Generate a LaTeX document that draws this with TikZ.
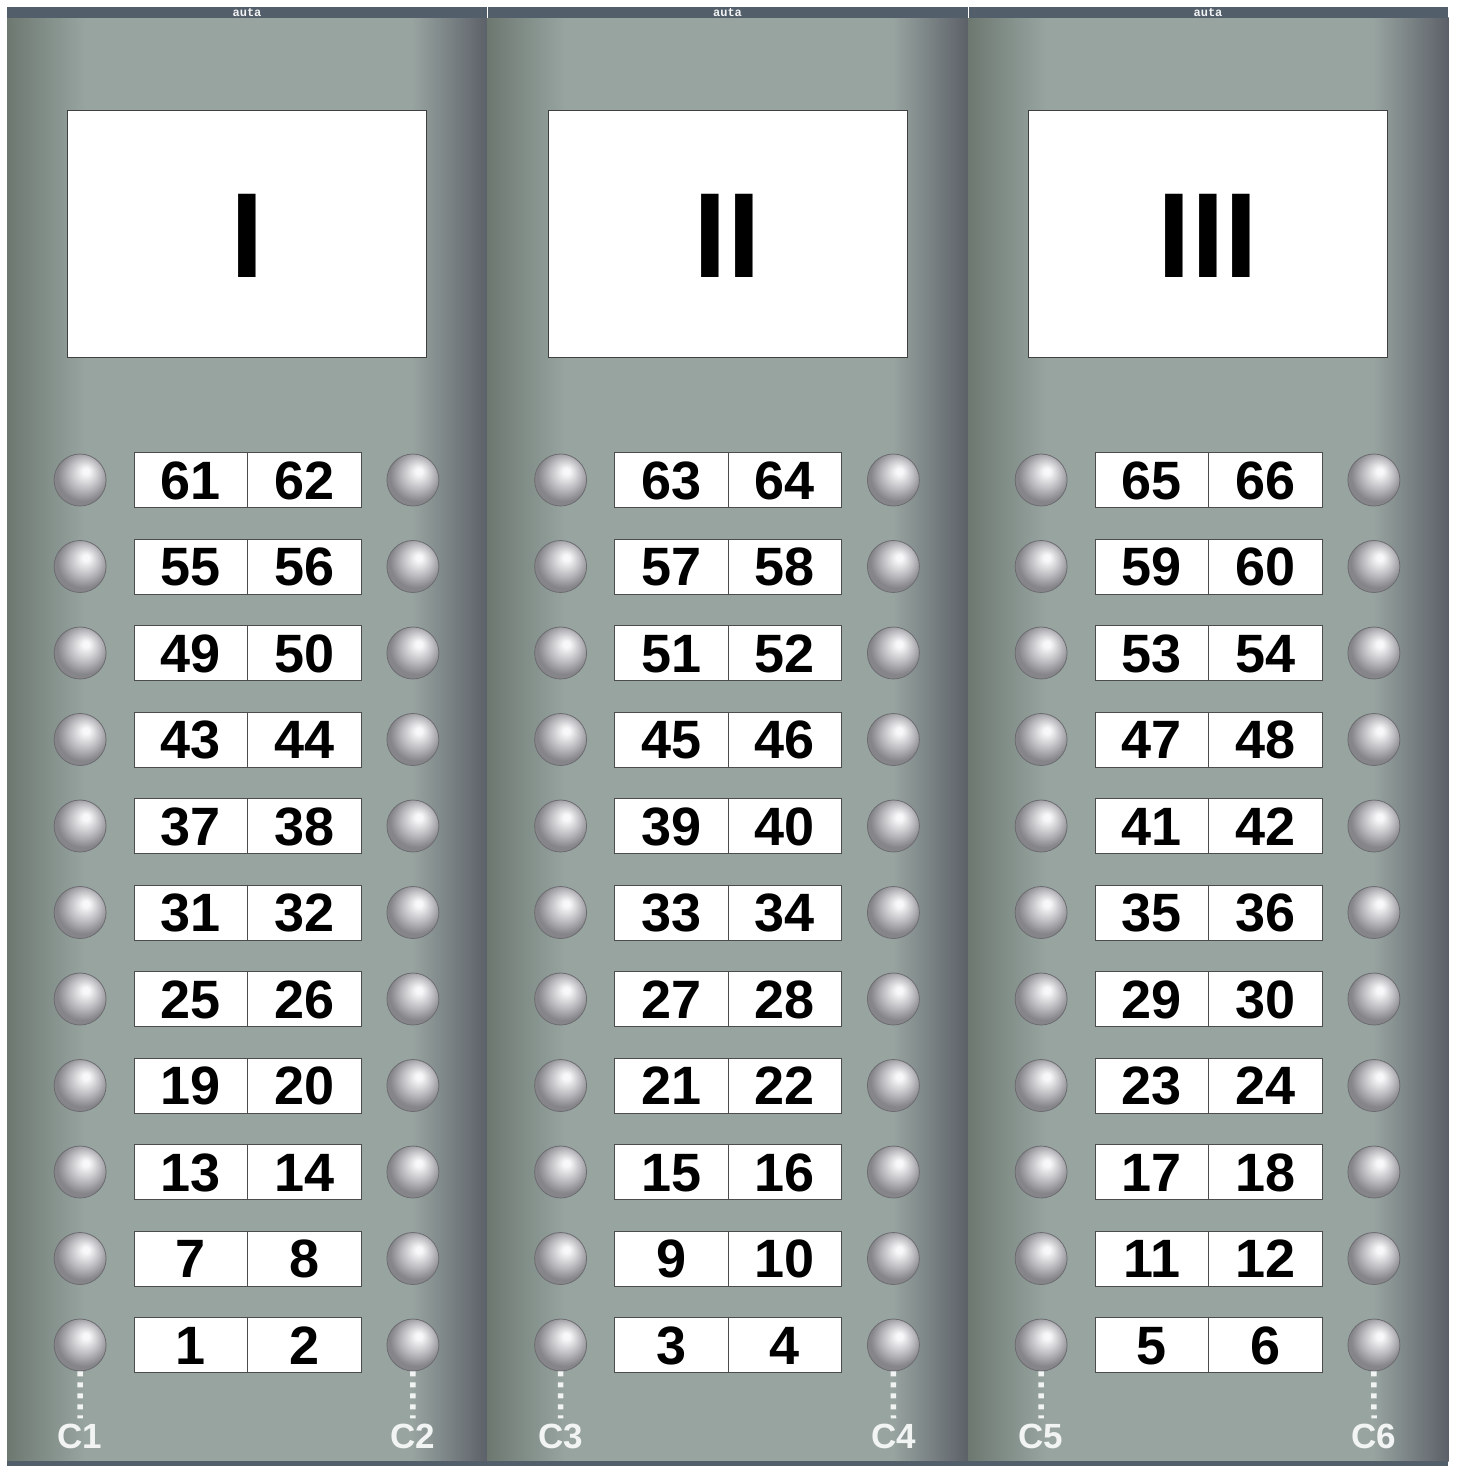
\documentclass[tikz,border=0pt]{standalone}
\usepackage{fontspec}
\setmainfont{Liberation Sans}
\newfontfamily\tagfont{Liberation Mono}
\definecolor{bardark}{RGB}{83,94,107}
\definecolor{panelmid}{RGB}{152,164,160}
\definecolor{panelleft}{RGB}{108,120,112}
\definecolor{panelshade}{RGB}{136,140,140}
\definecolor{panelright}{RGB}{92,96,104}
\definecolor{knobhi}{RGB}{248,248,250}
\definecolor{knobmid}{RGB}{188,188,192}
\definecolor{knoblo}{RGB}{134,134,138}
\definecolor{knobrim}{RGB}{108,108,112}
\definecolor{labelink}{RGB}{242,244,244}
\usetikzlibrary{positioning}
\pgfdeclareradialshading{knobball}{\pgfpoint{6bp}{9bp}}{color(0bp)=(knobhi); color(3bp)=(knobhi); color(15bp)=(knobmid); color(25bp)=(knoblo); color(50bp)=(knoblo)}

\begin{document}
\begin{tikzpicture}[x=1pt, y=-1pt,
    display/.style={rectangle, draw=black!75, fill=white, line width=1pt,
                    minimum width=359pt, minimum height=246pt, inner sep=0pt,
                    text height=87pt, text depth=0pt,
                    font=\fontsize{121}{121}\selectfont\bfseries},
    numbox/.style={rectangle, draw=black!70, fill=white, line width=1pt,
                   minimum width=113.5pt, minimum height=55pt, inner sep=0pt,
                   text height=38pt, text depth=0pt,
                   font=\fontsize{54}{54}\selectfont\bfseries},
    knob/.style={circle, draw=knobrim, line width=0.8pt, shade, shading=knobball,
                 minimum size=52pt, inner sep=0pt},
    core/.style={inner sep=0pt, text height=24pt, text depth=0pt, text=labelink,
                 font=\fontsize{35}{35}\selectfont\bfseries},
    wire/.style={draw=labelink, line width=5.5pt, dash pattern=on 5pt off 6pt, shorten >=6pt},
    tag/.style={text=labelink, font=\tagfont\bfseries\fontsize{12}{12}\selectfont}
  ]
  \useasboundingbox (0,0) rectangle (1457,1466);

  \foreach \p/\rn in {0/I,1/II,2/III} {
    \pgfmathsetmacro\ox{480.5*\p}
    \fill[panelmid] (\ox+7,18) rectangle (\ox+487.5,1461);
    \shade[left color=panelleft, right color=panelmid] (\ox+7,18) rectangle (\ox+85,1461);
    \shade[left color=panelmid, middle color=panelshade, right color=panelright] (\ox+412,18) rectangle (\ox+487.5,1461);

    \node[display] (disp-\p) at (\ox+247,234) {\rn};

    \foreach \r in {0,...,10} {
      \pgfmathtruncatemacro\lnum{6*\r+2*\p+1}
      \pgfmathtruncatemacro\rnum{\lnum+1}
      \pgfmathsetmacro\yy{1345-86.5*\r}
      \node[numbox] (n-\p-\r-a) at (\ox+190.75,\yy) {\lnum};
      \node[numbox, right=-1pt of n-\p-\r-a] (n-\p-\r-b) {\rnum};
      \node[knob, left=27pt of n-\p-\r-a] (k-\p-\r-a) {};
      \node[knob, right=25pt of n-\p-\r-b] (k-\p-\r-b) {};
    }

    \pgfmathtruncatemacro\cnum{2*\p+1}
    \pgfmathtruncatemacro\dnum{2*\p+2}
    \node[core] (c-\p-a) at (\ox+80,1436.5) {C\cnum};
    \node[core] (c-\p-b) at (\ox+413,1436.5) {C\dnum};
    \draw[wire] (k-\p-0-a.south) -- (c-\p-a.north);
    \draw[wire] (k-\p-0-b.south) -- (c-\p-b.north);
  }

  \fill[bardark] (7,7) rectangle (1448,18);
  \fill[bardark] (7,1461) rectangle (1448,1466);
  \foreach \xx in {487.5,968} {
    \draw[white, line width=0.8pt] (\xx,7) -- (\xx,18);
  }
  \foreach \p in {0,1,2} {
    \node[tag] (tag-\p) at (480.5*\p+247,12.5) {auta};
  }
\end{tikzpicture}
\end{document}
